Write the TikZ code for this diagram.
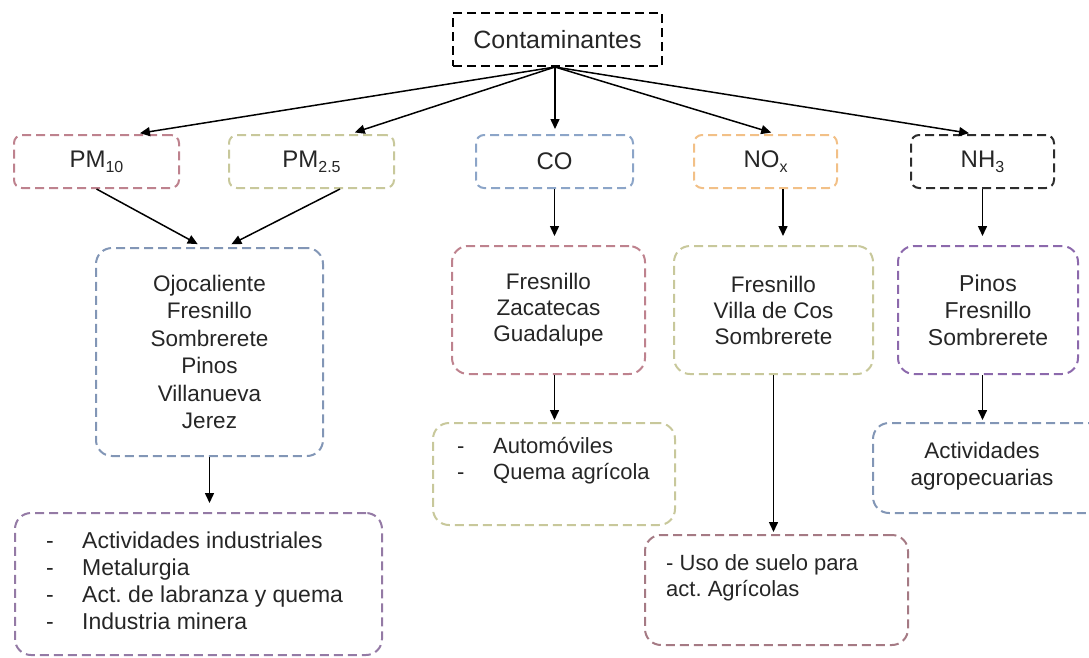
\documentclass[tikz,border=0pt]{standalone}
\usepackage{fontspec}
\setmainfont{Liberation Sans}
\usetikzlibrary{arrows.meta, positioning}

\definecolor{rosa}{RGB}{190,130,142}
\definecolor{caqui}{RGB}{200,200,155}
\definecolor{azul}{RGB}{140,165,200}
\definecolor{naranja}{RGB}{242,192,135}
\definecolor{gris}{RGB}{45,45,45}
\definecolor{azulgris}{RGB}{130,150,182}
\definecolor{morado}{RGB}{140,105,172}
\definecolor{lila}{RGB}{148,122,165}
\definecolor{rosagris}{RGB}{165,122,132}

\newcommand{\subidx}[1]{\raisebox{-0.2em}{\fontsize{16}{16}\selectfont #1}}
\newcommand{\guion}{\makebox[36pt][l]{-}}
\frenchspacing

\begin{document}
\begin{tikzpicture}[x=1pt, y=-1pt,
    caja/.style={draw, dash pattern=on 9pt off 5pt, line width=2pt, inner sep=0pt,
        align=center, text=black!85, font=\fontsize{22.5}{26}\selectfont},
    gas/.style={caja, rounded corners=8pt, minimum height=53pt, font=\fontsize{24}{26}\selectfont},
    zona/.style={caja, rounded corners=16pt, minimum height=128pt},
    lista/.style={inner sep=0pt, align=left, text=black!85, font=\fontsize{22}{26}\selectfont},
    flecha/.style={-{Triangle[length=10pt, width=9pt]}, line width=1.5pt, shorten >=2pt}]
    \clip (0,0) rectangle (1089,657);

    % Top box
    \node[caja, minimum width=209pt, minimum height=53pt, font=\fontsize{25}{28}\selectfont] (top) at (557.5,39.5) {Contaminantes};
    \coordinate (hub) at ([xshift=-2.5pt]top.south);

    % Pollutants
    \node[gas, draw=rosa, minimum width=165pt] (pm10) at (96.5,161.5) {PM\subidx{10}};
    \node[gas, draw=caqui, minimum width=165pt] (pm25) at (311.5,161.5) {PM\subidx{2.5}};
    \node[gas, draw=azul, minimum width=157pt] (co) at (554.5,161.5) {CO};
    \node[gas, draw=naranja, minimum width=143pt] (nox) at (765.5,161.5) {NO\subidx{x}};
    \node[gas, draw=gris, minimum width=143pt] (nh3) at (982.5,161.5) {NH\subidx{3}};

    % Municipalities
    \node[zona, draw=azulgris, minimum width=227pt, minimum height=208pt, font=\fontsize{22.5}{27.5}\selectfont] (ojo) at (209.5,352) {Ojocaliente\\Fresnillo\\Sombrerete\\Pinos\\Villanueva\\Jerez};
    \node[zona, draw=rosa, minimum width=193pt] (zac) at (548.5,310) {Fresnillo\\Zacatecas\\Guadalupe};
    \node[zona, draw=caqui, minimum width=199pt] (cos) at (773.5,310) {Fresnillo\\Villa de Cos\\Sombrerete};
    \node[zona, draw=morado, minimum width=180pt, font=\fontsize{23}{27}\selectfont] (pin) at (988,310) {Pinos\\Fresnillo\\Sombrerete};

    % Sources
    \node[zona, draw=lila, minimum width=367pt, minimum height=142pt] (ind) at (198.5,584) {};
    \node[lista, anchor=north west, font=\fontsize{23}{27}\selectfont] (indtxt) at ([xshift=32pt, yshift=-20pt]ind.north west) {\guion Actividades industriales\\\guion Metalurgia\\\guion Act. de labranza y quema\\\guion Industria minera};
    \node[zona, draw=caqui, minimum width=242pt, minimum height=102pt] (auto) at (554,474) {};
    \node[lista, anchor=north west] (autotxt) at ([xshift=25pt, yshift=-15.5pt]auto.north west) {\guion Automóviles\\\guion Quema agrícola};
    \node[zona, draw=rosagris, minimum width=263pt, minimum height=110pt] (uso) at (776.5,590) {};
    \node[lista, anchor=north west] (usotxt) at ([xshift=22pt, yshift=-20.5pt]uso.north west) {- Uso de suelo para\\act. Agrícolas};
    \node[zona, draw=azulgris, minimum width=240pt, minimum height=90pt] (agro) at (993,468) {};
    \node[lista, align=center, font=\fontsize{22.5}{27}\selectfont] (agrotxt) at (982,466) {Actividades\\agropecuarias};

    % Arrows from the top box
    \draw[flecha, shorten >=5pt] (hub) -- ([xshift=38.5pt]pm10.north);
    \draw[flecha, shorten >=5pt] (hub) -- ([xshift=38.5pt]pm25.north);
    \draw[flecha, shorten >=5pt] (hub) -- (hub |- co.north);
    \draw[flecha, shorten >=5pt] (hub) -- ([xshift=10.5pt]nox.north);
    \draw[flecha, shorten >=5pt] (hub) -- ([xshift=-8.5pt]nh3.north);

    % Second level
    \draw[flecha, shorten >=6pt] (pm10.south) -- ([xshift=-6.5pt]ojo.north);
    \draw[flecha, shorten >=6pt] ([xshift=28.5pt]pm25.south) -- ([xshift=16.5pt]ojo.north);
    \draw[flecha, shorten >=9pt] (co.south) -- (co.south |- zac.north);
    \draw[flecha, shorten >=9pt] ([xshift=17.5pt]nox.south) -- ([xshift=17.5pt]nox.south |- cos.north);
    \draw[flecha, shorten >=9pt] (nh3.south) -- (nh3.south |- pin.north);

    % Third level
    \draw[flecha, shorten >=9pt] (ojo.south) -- (ojo.south |- ind.north);
    \draw[flecha] (zac.south -| co.south) -- (co.south |- auto.north);
    \draw[flecha] (cos.south) -- (cos.south |- uso.north);
    \draw[flecha] (pin.south -| nh3.south) -- (nh3.south |- agro.north);
\end{tikzpicture}
\end{document}
